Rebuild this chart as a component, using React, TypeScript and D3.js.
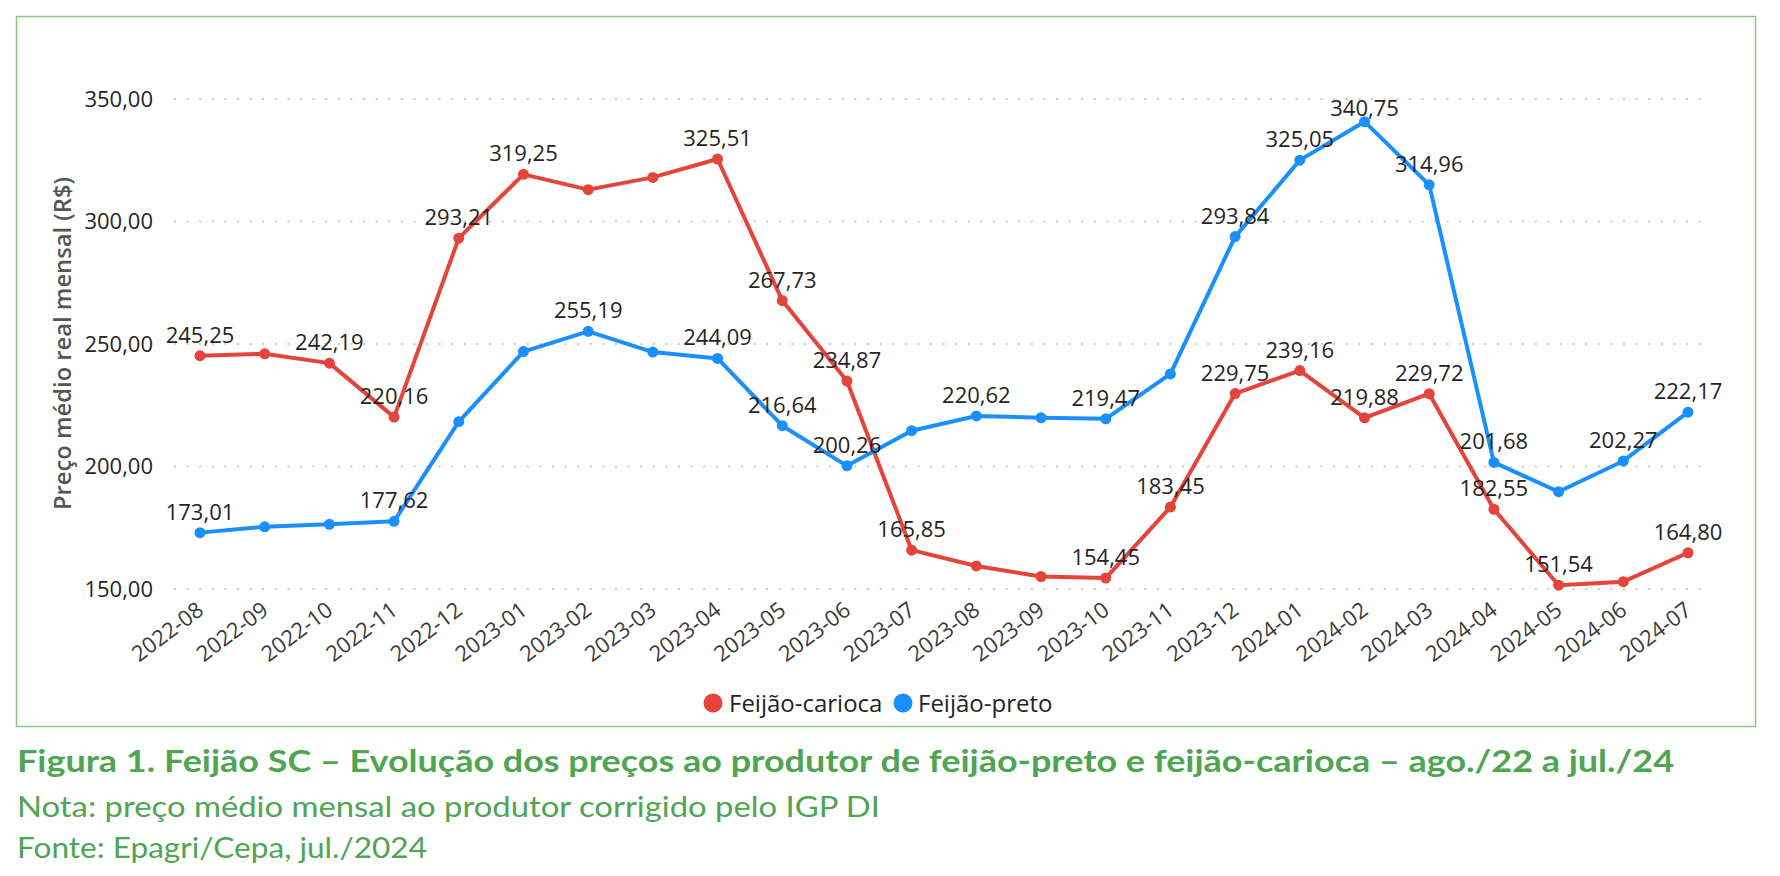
import React from "react";
import * as d3 from "d3";

const months = [
  "2022-08", "2022-09", "2022-10", "2022-11", "2022-12",
  "2023-01", "2023-02", "2023-03", "2023-04", "2023-05", "2023-06", "2023-07",
  "2023-08", "2023-09", "2023-10", "2023-11", "2023-12",
  "2024-01", "2024-02", "2024-03", "2024-04", "2024-05", "2024-06", "2024-07",
];

const carioca = [
  245.25, 246.0, 242.19, 220.16, 293.21,
  319.25, 313.0, 318.0, 325.51, 267.73, 234.87, 165.85,
  159.4, 155.1, 154.45, 183.45, 229.75,
  239.16, 219.88, 229.72, 182.55, 151.54, 153.0, 164.8,
];

const preto = [
  173.01, 175.4, 176.4, 177.62, 218.3,
  246.9, 255.19, 246.7, 244.09, 216.64, 200.26, 214.6,
  220.62, 219.9, 219.47, 237.8, 293.84,
  325.05, 340.75, 314.96, 201.68, 189.7, 202.27, 222.17,
];

const cariocaLabeled = [
  "2022-08", "2022-10", "2022-11", "2022-12", "2023-01", "2023-04", "2023-05",
  "2023-06", "2023-07", "2023-10", "2023-11", "2023-12", "2024-01", "2024-02",
  "2024-03", "2024-04", "2024-05", "2024-07",
];
const pretoLabeled = [
  "2022-08", "2022-11", "2023-02", "2023-04", "2023-05", "2023-06", "2023-08",
  "2023-10", "2023-12", "2024-01", "2024-02", "2024-03", "2024-04", "2024-06",
  "2024-07",
];

const yTicks = [150, 200, 250, 300, 350];
const seriesNames = ["Feijão-carioca", "Feijão-preto"];
const colors = ["#E5443A", "#1A8FFF"];

const yTitle = "Preço médio real mensal (R$)";
const caption = "Figura 1. Feijão SC – Evolução dos preços ao produtor de feijão-preto e feijão-carioca – ago./22 a jul./24";
const note = "Nota: preço médio mensal ao produtor corrigido pelo IGP DI";
const source = "Fonte: Epagri/Cepa, jul./2024";

const W = 1780;
const H = 876;
const fmt = (v: number) => v.toFixed(2).replace(".", ",");
const FONT = "'Open Sans', 'Noto Sans', sans-serif";

export default function App() {
  const x = d3.scalePoint<string>().domain(months).range([200, 1688]);
  const y = d3.scaleLinear().domain([150, 350]).range([589, 99]);
  const line = d3
    .line<number>()
    .x((_, i) => x(months[i]) as number)
    .y((d) => y(d));

  const series = [
    { name: seriesNames[0], values: carioca, labeled: cariocaLabeled, color: colors[0] },
    { name: seriesNames[1], values: preto, labeled: pretoLabeled, color: colors[1] },
  ];

  const labelTop = 116;

  return (
    <svg
      width={W}
      height={H}
      style={{ position: "absolute", left: 0, top: 0, background: "#fff" }}
    >
      <rect x={0} y={0} width={W} height={H} fill="#fff" />
      <rect x={16.5} y={16.5} width={1739} height={710} fill="none" stroke="#86C986" strokeWidth={1.5} />

      {/* gridlines */}
      {yTicks.map((t) => (
        <line
          key={"g" + t}
          x1={174}
          x2={1708}
          y1={y(t)}
          y2={y(t)}
          stroke="#C8C8C8"
          strokeWidth={2}
          strokeDasharray="2 10.6"
        />
      ))}

      {/* y tick labels */}
      {yTicks.map((t) => (
        <text
          key={"yl" + t}
          x={153}
          y={y(t)}
          dy="0.36em"
          textAnchor="end"
          fontFamily={FONT}
          fontSize={22}
          fill="#252423"
        >
          {fmt(t)}
        </text>
      ))}

      {/* y title */}
      <text
        transform={`translate(71,343.5) rotate(-90)`}
        textAnchor="middle"
        fontFamily={FONT}
        fontSize={23}
        fontWeight={600}
        fill="#555"
        textLength={333}
        lengthAdjust="spacingAndGlyphs"
      >
        {yTitle}
      </text>

      {/* x labels */}
      {months.map((m) => (
        <text
          key={"xl" + m}
          transform={`translate(${(x(m) as number) + 5},613) rotate(-37)`}
          textAnchor="end"
          fontFamily={FONT}
          fontSize={22}
          fill="#3b3a39"
        >
          {m}
        </text>
      ))}

      {/* lines */}
      {series.map((s) => (
        <g key={s.name}>
          <path
            d={line(s.values) || ""}
            fill="none"
            stroke={s.color}
            strokeWidth={4}
            strokeLinejoin="round"
          />
          {s.values.map((v, i) => (
            <circle key={i} cx={x(months[i]) as number} cy={y(v)} r={5.5} fill={s.color} />
          ))}
        </g>
      ))}

      {/* data labels */}
      {series.map((s) =>
        s.values.map((v, i) =>
          s.labeled.includes(months[i]) ? (
            <text
              key={s.name + "l" + i}
              x={x(months[i]) as number}
              y={Math.max(y(v) - 13, labelTop)}
              textAnchor="middle"
              fontFamily={FONT}
              fontSize={22}
              fill="#252423"
            >
              {fmt(v)}
            </text>
          ) : null
        )
      )}

      {/* legend */}
      <circle cx={713} cy={703} r={9.5} fill={colors[0]} />
      <text x={729} y={712} fontFamily={FONT} fontSize={24} fill="#252423">
        {seriesNames[0]}
      </text>
      <circle cx={903} cy={703} r={9.5} fill={colors[1]} />
      <text x={918} y={712} fontFamily={FONT} fontSize={24} fill="#252423">
        {seriesNames[1]}
      </text>

      {/* caption */}
      <text
        x={17}
        y={772}
        fontFamily="Lato, 'Open Sans', sans-serif"
        fontWeight={700}
        fontSize={30}
        fill="#4EA552"
        textLength={1657}
        lengthAdjust="spacingAndGlyphs"
      >
        {caption}
      </text>
      <text
        x={17}
        y={817}
        fontFamily="Lato, 'Open Sans', sans-serif"
        fontSize={28}
        fill="#4EA552"
        textLength={863}
        lengthAdjust="spacingAndGlyphs"
      >
        {note}
      </text>
      <text
        x={17}
        y={858}
        fontFamily="Lato, 'Open Sans', sans-serif"
        fontSize={28}
        fill="#4EA552"
        textLength={410}
        lengthAdjust="spacingAndGlyphs"
      >
        {source}
      </text>
    </svg>
  );
}
